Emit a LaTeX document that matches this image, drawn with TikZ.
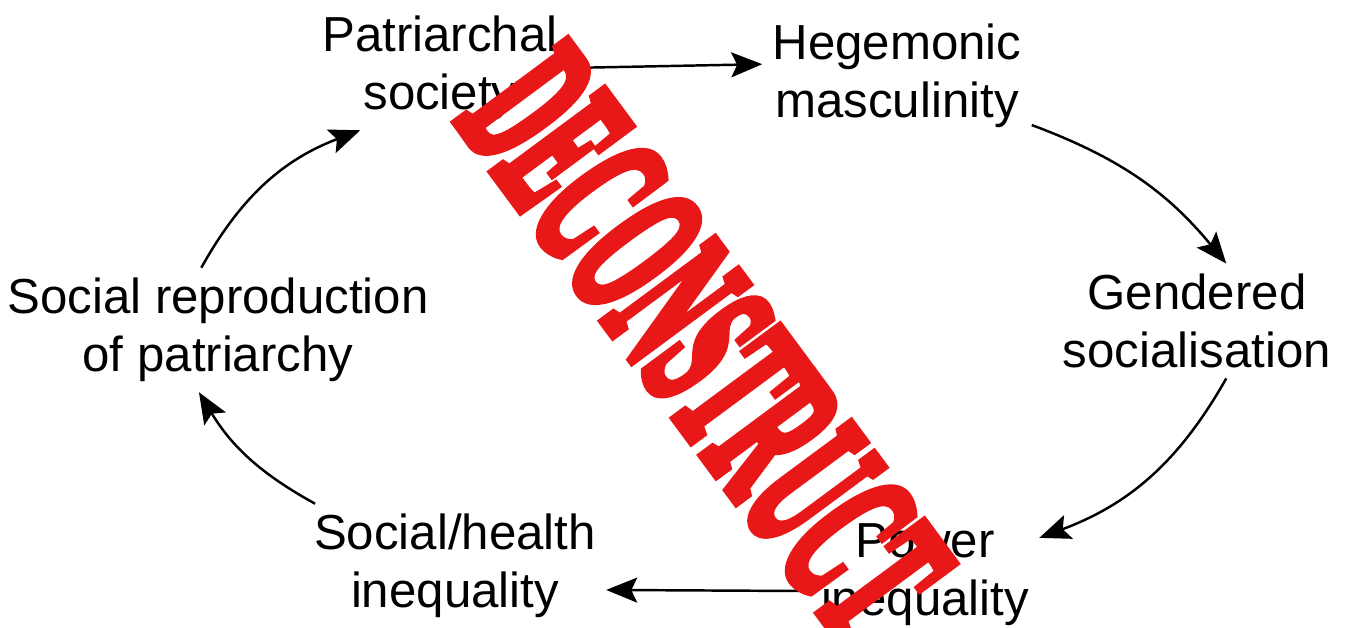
\documentclass[tikz,border=0pt]{standalone}
\usepackage{fontspec}
\setmainfont{Liberation Sans}
\newfontfamily\stampfont[FakeBold=7]{Liberation Serif}
\usepackage{graphicx}
\usepackage{tikz}
\usetikzlibrary{arrows.meta}
\definecolor{stampred}{RGB}{233,24,24}

\begin{document}
\begin{tikzpicture}[
	box/.style={align=center, inner sep=0.2cm, font=\fontsize{28}{33}\selectfont},
	flow/.style={line width=1.4pt, -{Stealth[length=0.62cm,width=0.5cm,inset=0.12cm]}}
	]
	\useasboundingbox (0,0) rectangle (27.16,12.56);
	\draw
	(8.8,11.2)   node[box] (soc) {Patriarchal\\society}
	(17.94,11.04) node[box] (heg) {Hegemonic\\masculinity}
	(23.94,6.14) node[box] (gen) {Gendered\\socialisation}
	(18.5,1.06)  node[box] (pow) {Power\\inequality}
	(9.1,1.24)   node[box] (hea) {Social/health\\inequality}
	(4.36,5.96)  node[box] (rep) {Social reproduction\\of patriarchy}
	;
	% the cycle
	\draw[flow] (soc.east) -- (heg.175);
	\draw[flow] (heg.-20) to[bend left=15] (gen.63);
	\draw[flow] (gen.-63) to[bend left=20] (pow.18);
	\draw[flow] (pow.-172) -- (hea.-9);
	\draw[flow] (hea.156) to[bend left=15] (rep.-107);
	\draw[flow] (rep.105) to[bend left=20] (soc.-142);
	% stamp on top
	\node[text=stampred, rotate=-53.5, inner sep=0pt] (stamp) at (14.1,5.7)
		{\scalebox{0.42}[1]{\stampfont\bfseries\fontsize{116}{116}\selectfont DECONSTRUCT}};
\end{tikzpicture}
\end{document}
